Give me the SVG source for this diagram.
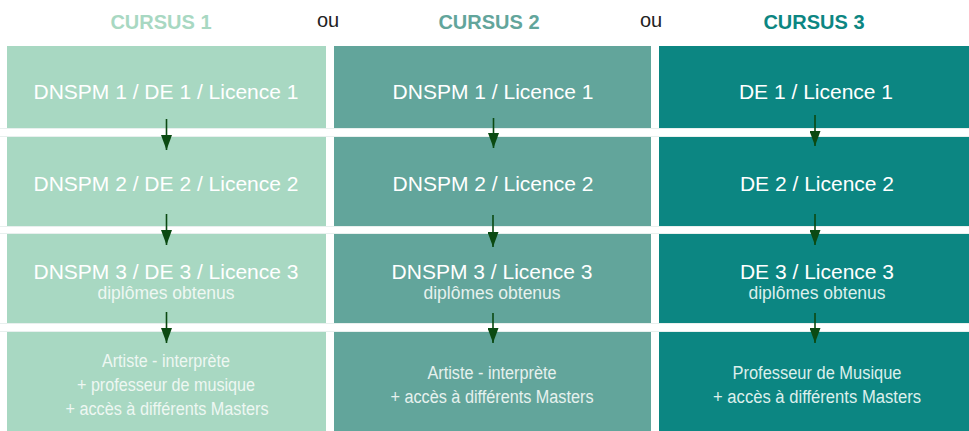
<svg xmlns="http://www.w3.org/2000/svg" width="969" height="431" viewBox="0 0 969 431">
<style>
.title{font-family:"Liberation Sans",Arial,sans-serif;font-size:20px;font-weight:bold;text-anchor:middle}
.ou{font-family:"Liberation Sans",Arial,sans-serif;font-size:20px;fill:#222;text-anchor:middle}
.main{font-family:"Liberation Sans",Arial,sans-serif;font-size:21px;fill:#ffffff;text-anchor:middle}
.sub{font-family:"Liberation Sans",Arial,sans-serif;font-size:17.5px;text-anchor:middle}
.out{font-family:"Liberation Sans",Arial,sans-serif;font-size:18px;text-anchor:middle}
.c1{fill:#a8d8c2}.c2{fill:#62a59b}.c3{fill:#0c8682}
.t1{fill:#eef7f2}.t2{fill:#e6f1ee}.t3{fill:#dcefec}
.arrow{stroke:#0b4a12;stroke-width:1.6;fill:none}
.grid{stroke:#e8f0ee;stroke-width:1}
</style>
<defs>
<marker id="ah" viewBox="0 0 15 11" refX="15" refY="5.5" markerWidth="15" markerHeight="11" markerUnits="userSpaceOnUse" orient="auto">
<path d="M0,0 L15,5.5 L0,11 Z" fill="#0b4a12"/>
</marker>
</defs>
<rect width="969" height="431" fill="#ffffff"/>
<g id="grid">
<line class="grid" x1="0" y1="128.5" x2="969" y2="128.5"/>
<line class="grid" x1="0" y1="136.5" x2="969" y2="136.5"/>
<line class="grid" x1="0" y1="226.5" x2="969" y2="226.5"/>
<line class="grid" x1="0" y1="233.5" x2="969" y2="233.5"/>
<line class="grid" x1="0" y1="323.5" x2="969" y2="323.5"/>
<line class="grid" x1="0" y1="331.5" x2="969" y2="331.5"/>
</g>
<g id="headers">
<text class="title" x="161" y="29" fill="#a8d8c2">CURSUS 1</text>
<text class="ou" x="328" y="27">ou</text>
<text class="title" x="489" y="29" fill="#62a59b">CURSUS 2</text>
<text class="ou" x="651" y="27">ou</text>
<text class="title" x="814" y="29" fill="#0c8682">CURSUS 3</text>
</g>
<g id="c1r1"><rect class="c1" x="7" y="46" width="319" height="82"/><text class="main" x="166" y="99">DNSPM 1 / DE 1 / Licence 1</text></g>
<g id="c1r2"><rect class="c1" x="7" y="137" width="319" height="89"/><text class="main" x="166" y="191">DNSPM 2 / DE 2 / Licence 2</text></g>
<g id="c1r3"><rect class="c1" x="7" y="234" width="319" height="89"/><text class="main" x="166" y="279">DNSPM 3 / DE 3 / Licence 3</text><text class="sub t1" x="166" y="299">diplômes obtenus</text></g>
<g id="c1r4"><rect class="c1" x="7" y="332" width="319" height="99"/>
<text class="out t1" x="166" y="367" textLength="128" lengthAdjust="spacingAndGlyphs">Artiste - interprète</text>
<text class="out t1" x="166" y="391" textLength="178" lengthAdjust="spacingAndGlyphs">+ professeur de musique</text>
<text class="out t1" x="167" y="415" textLength="203" lengthAdjust="spacingAndGlyphs">+ accès à différents Masters</text></g>
<g id="c2r1"><rect class="c2" x="334" y="46" width="317" height="82"/><text class="main" x="493" y="99">DNSPM 1 / Licence 1</text></g>
<g id="c2r2"><rect class="c2" x="334" y="137" width="317" height="89"/><text class="main" x="493" y="191">DNSPM 2 / Licence 2</text></g>
<g id="c2r3"><rect class="c2" x="334" y="234" width="317" height="89"/><text class="main" x="492" y="279">DNSPM 3 / Licence 3</text><text class="sub t2" x="492" y="299">diplômes obtenus</text></g>
<g id="c2r4"><rect class="c2" x="334" y="332" width="317" height="99"/>
<text class="out t2" x="492" y="379" textLength="129" lengthAdjust="spacingAndGlyphs">Artiste - interprète</text>
<text class="out t2" x="492" y="403" textLength="203" lengthAdjust="spacingAndGlyphs">+ accès à différents Masters</text></g>
<g id="c3r1"><rect class="c3" x="659" y="46" width="310" height="82"/><text class="main" x="816" y="99">DE 1 / Licence 1</text></g>
<g id="c3r2"><rect class="c3" x="659" y="137" width="310" height="89"/><text class="main" x="817" y="191">DE 2 / Licence 2</text></g>
<g id="c3r3"><rect class="c3" x="659" y="234" width="310" height="89"/><text class="main" x="817" y="279">DE 3 / Licence 3</text><text class="sub t3" x="817" y="299">diplômes obtenus</text></g>
<g id="c3r4"><rect class="c3" x="659" y="332" width="310" height="99"/>
<text class="out t3" x="817" y="379" textLength="169" lengthAdjust="spacingAndGlyphs">Professeur de Musique</text>
<text class="out t3" x="817" y="403" textLength="208" lengthAdjust="spacingAndGlyphs">+ accès à différents Masters</text></g>
<g id="connectors">
<line class="arrow" x1="166.5" y1="119" x2="166.5" y2="150" marker-end="url(#ah)"/>
<line class="arrow" x1="166.5" y1="214" x2="166.5" y2="245" marker-end="url(#ah)"/>
<line class="arrow" x1="166.5" y1="312" x2="166.5" y2="343" marker-end="url(#ah)"/>
<line class="arrow" x1="493.5" y1="118" x2="493.5" y2="148" marker-end="url(#ah)"/>
<line class="arrow" x1="493" y1="215" x2="493" y2="247" marker-end="url(#ah)"/>
<line class="arrow" x1="493" y1="313" x2="493" y2="343" marker-end="url(#ah)"/>
<line class="arrow" x1="815" y1="115" x2="815" y2="146" marker-end="url(#ah)"/>
<line class="arrow" x1="815" y1="214" x2="815" y2="245" marker-end="url(#ah)"/>
<line class="arrow" x1="815" y1="313" x2="815" y2="343" marker-end="url(#ah)"/>
</g>
</svg>
